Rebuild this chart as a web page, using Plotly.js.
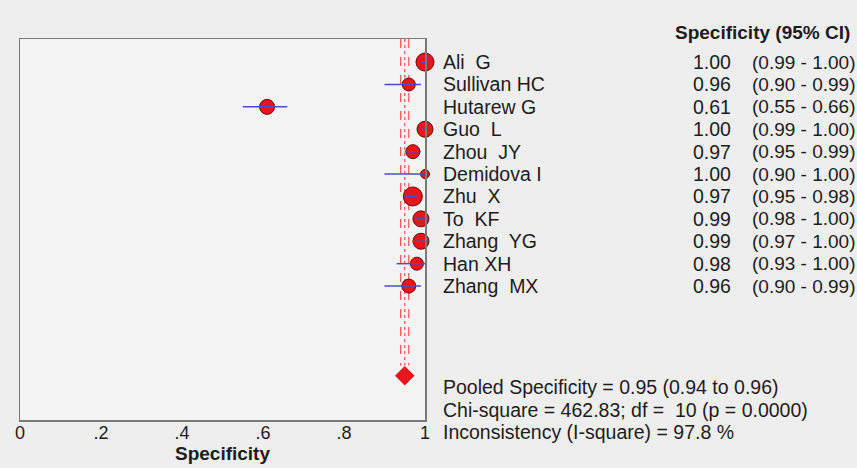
<!DOCTYPE html>
<html>
<head>
<meta charset="utf-8">
<script src="https://cdn.plot.ly/plotly-3.0.1.min.js"></script>
<style>html,body{margin:0;padding:0;background:#eeeeee;}#chart{width:857px;height:468px;}</style>
</head>
<body>
<div id="chart"></div>
<script>
// ---- data ----
var studies = ["Ali\u00a0 G", "Sullivan HC", "Hutarew G", "Guo\u00a0 L", "Zhou\u00a0 JY", "Demidova I",
               "Zhu\u00a0 X", "To\u00a0 KF", "Zhang\u00a0 YG", "Han XH", "Zhang\u00a0 MX"];
var spec  = [1.00, 0.96, 0.61, 1.00, 0.97, 1.00, 0.97, 0.99, 0.99, 0.98, 0.96];
var ciLow = [0.99, 0.90, 0.55, 0.99, 0.95, 0.90, 0.95, 0.98, 0.97, 0.93, 0.90];
var ciHigh= [1.00, 0.99, 0.66, 1.00, 0.99, 1.00, 0.98, 1.00, 1.00, 1.00, 0.99];
var weights = [18, 13, 15, 16, 14, 9, 19, 16, 16, 13, 14]; // marker size (study weight)
var pooled = 0.95, pooledLow = 0.94, pooledHigh = 0.96;
var tickVals = [0, 0.2, 0.4, 0.6, 0.8, 1];
var tickText = ["0", ".2", ".4", ".6", ".8", "1"];
var footer = ["Pooled Specificity = 0.95 (0.94 to 0.96)",
              "Chi-square = 462.83; df =\u00a0 10 (p = 0.0000)",
              "Inconsistency (I-square) = 97.8 %"];

// ---- build ----
var rows = studies.map(function(_, i){ return i; });
var pooledRow = 14;
var yTop = -1.03, yBot = 15.98;
var FONT = '"Liberation Sans", Arial, sans-serif';
function yp(r){ return 1 - (r - yTop) / (yBot - yTop); } // row -> paper fraction
var traces = [];

// vertical reference lines at pooled estimate and its CI
[[pooledLow, 'dash'], [pooled, 'dot'], [pooledHigh, 'dash']].forEach(function(p){
  traces.push({x:[p[0], p[0]], y:[yTop, pooledRow - 0.45], mode:'lines', hoverinfo:'skip',
    line:{color:'#ff4a4a', width:1.2, dash:p[1]}, showlegend:false});
});

// study markers
traces.push({x: spec, y: rows, mode:'markers', showlegend:false, cliponaxis:false,
  marker:{symbol:'circle', size: weights, opacity:1, color:'#e8161c', line:{color:'#6a0808', width:1}}});

// CI lines (drawn over markers)
studies.forEach(function(_, i){
  traces.push({x:[ciLow[i], ciHigh[i]], y:[i, i], mode:'lines', showlegend:false, hoverinfo:'skip',
    line:{color:'#4a4ad8', width:1.5}});
});

// pooled diamond
traces.push({x:[pooled], y:[pooledRow], mode:'markers', showlegend:false, cliponaxis:false,
  marker:{symbol:'diamond', size:15, opacity:1, color:'#e8161c', line:{width:0}}});

var ann = [];
var xName = 1.0395, xNum = 1.7605, xCI = 1.8025;
function txt(x, r, t, anchor, bold, size){
  return {x:x, y:yp(r), xref:'paper', yref:'paper', text: bold ? '<b>'+t+'</b>' : t, showarrow:false,
    xanchor:anchor, yanchor:'middle', font:{family:FONT, size:size || 19.5, color:'#1c1c1c'}};
}
studies.forEach(function(s, i){
  ann.push(txt(xName, i, s, 'left'));
  ann.push(txt(xNum, i, spec[i].toFixed(2), 'right'));
  ann.push(txt(xCI, i, '(' + ciLow[i].toFixed(2) + ' - ' + ciHigh[i].toFixed(2) + ')', 'left', false, 19));
});
ann.push(txt(1.612, -1.34, 'Specificity (95% CI)', 'left', true, 19));
var footY = [14.5, 15.53, 16.52];
footer.forEach(function(t, i){ ann.push(txt(xName, footY[i], t, 'left')); });

var layout = {
  width:857, height:468,
  margin:{l:20, r:432, t:39, b:48, pad:0},
  paper_bgcolor:'#eeeeee', plot_bgcolor:'#f3f3f3',
  showlegend:false,
  font:{family:FONT, color:'#1c1c1c'},
  xaxis:{range:[0,1], tickvals:tickVals, ticktext:tickText, ticks:'', showgrid:false, zeroline:false,
    showline:true, mirror:true, linecolor:'#7a7a7a', linewidth:1.5, ticklabelstandoff:-4,
    tickfont:{family:FONT, size:18, color:'#1c1c1c'},
    title:{text:'<b>Specificity</b>', font:{family:FONT, size:19, color:'#1c1c1c'}, standoff:0}},
  yaxis:{range:[yBot, yTop], showticklabels:false, ticks:'', showgrid:false, zeroline:false,
    showline:true, mirror:true, linecolor:'#7a7a7a', linewidth:1.5},
  annotations: ann
};

Plotly.newPlot('chart', traces, layout, {displayModeBar:false, staticPlot:true});
</script>
</body>
</html>
